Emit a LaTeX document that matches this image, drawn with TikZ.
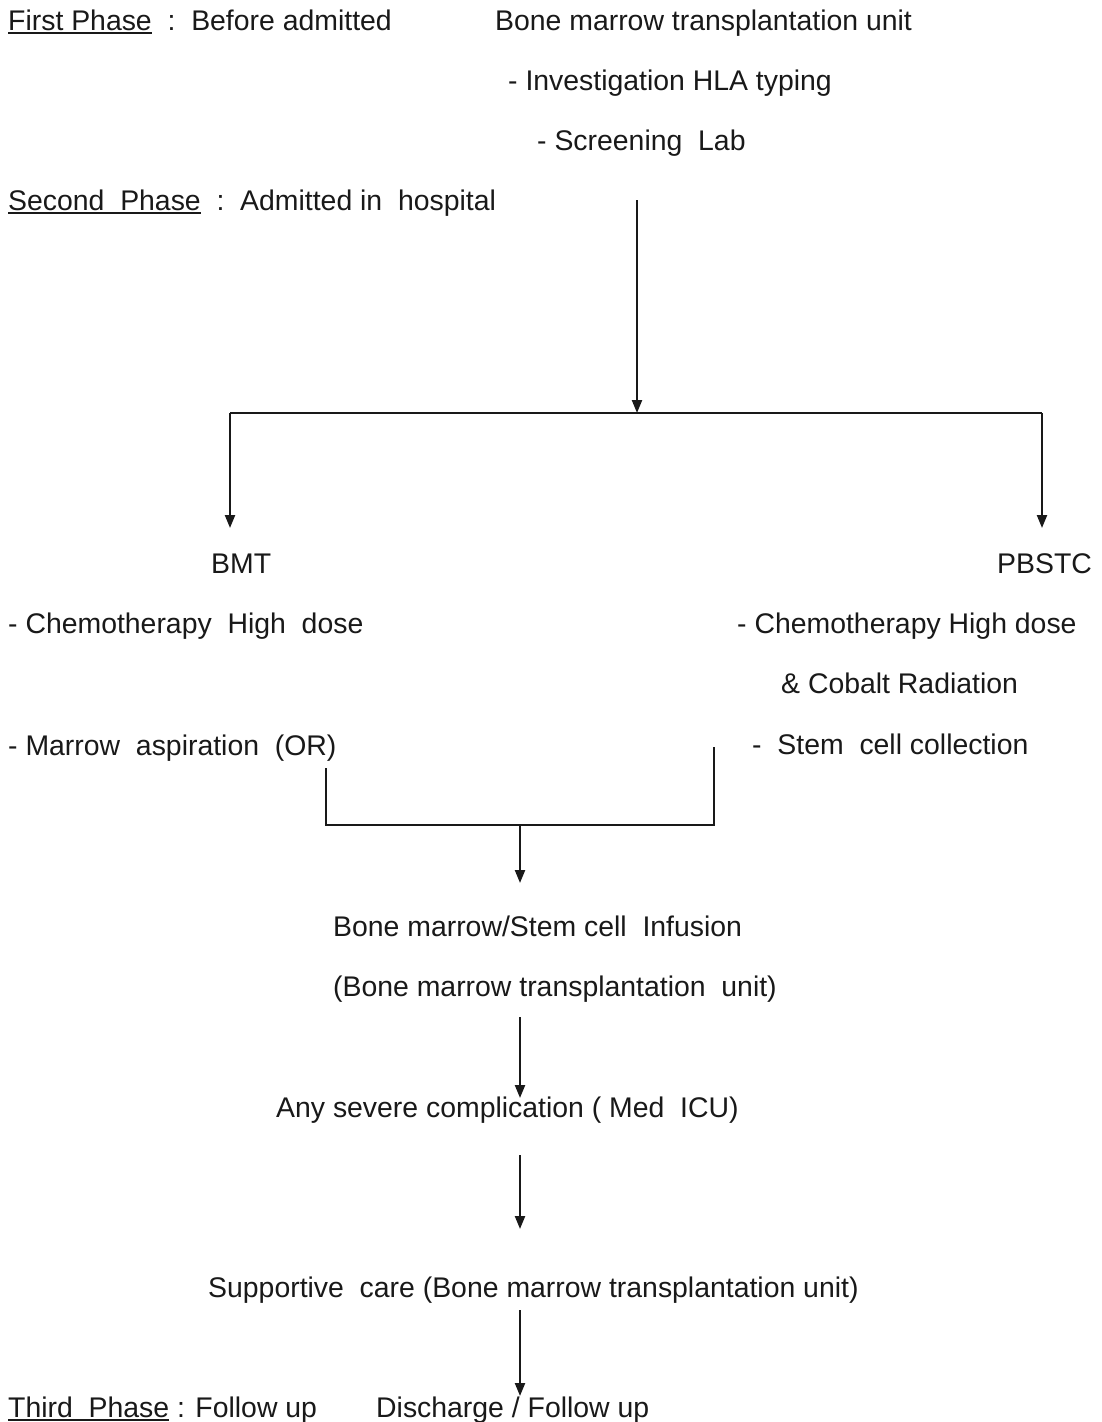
\documentclass[tikz,border=0pt]{standalone}
\usepackage{fontspec}
\setmainfont{Liberation Sans}
\usetikzlibrary{arrows.meta}
\newcommand\myul[1]{\setbox0\hbox{#1}\rlap{\rule[-3.8pt]{\wd0}{2pt}}\box0}
\tikzset{
  txt/.style={anchor=base west, inner sep=0pt, font=\fontsize{28.4}{34}\selectfont, text=black!90},
  ln/.style={line width=2.2pt, draw=black!90},
  arr/.style={ln, -{Triangle[length=13pt,width=10pt]}},
}
\begin{document}
\begin{tikzpicture}[x=1pt,y=-1pt]
\useasboundingbox (0,0) rectangle (1101,1422);
\fill[white] (0,0) rectangle (1101,1422);
% texts
\node[txt] (p1) at (8,30) {\myul{First Phase}\ \ :\ \ Before admitted};
\node[txt] (bmtu) at (495,30) {Bone marrow transplantation unit};
\node[txt] (hla) at (508,90) {- Investigation HLA typing};
\node[txt] (scr) at (537,150) {- Screening\ \ Lab};
\node[txt] (p2) at (8,210) {\myul{Second\ \ Phase}\ \ :\ \ Admitted in\ \ hospital};
\node[txt] (bmt) at (211,573) {BMT};
\node[txt] (pbstc) at (997,573) {PBSTC};
\node[txt] (c1) at (8,633) {- Chemotherapy\ \ High\ \ dose};
\node[txt] (c2) at (737,633) {- Chemotherapy High dose};
\node[txt] (cob) at (781,693) {\& Cobalt Radiation};
\node[txt] (mar) at (8,755) {- Marrow\ \ aspiration\ \ (OR)};
\node[txt] (stem) at (752,754) {-\ \ Stem\ \ cell collection};
\node[txt] (inf) at (333,936) {Bone marrow/Stem cell\ \ Infusion};
\node[txt] (unit) at (333,996) {(Bone marrow transplantation\ \ unit)};
\node[txt] (comp) at (276,1117) {Any severe complication ( Med\ \ ICU)};
\node[txt] (sup) at (208,1297) {Supportive\ \ care (Bone marrow transplantation unit)};
\node[txt] (p3) at (8,1417) {\myul{Third\ \ Phase}\ : Follow up};
\node[txt] (dis) at (376,1417) {Discharge / Follow up};
% connector points
\coordinate (t0) at (637,200);
\coordinate (t1) at (637,413);
\coordinate (hl) at (230,413);
\coordinate (hr) at (1042,413);
\coordinate (bl) at (230,528);
\coordinate (br) at (1042,528);
\coordinate (ml0) at (326,768);
\coordinate (ml1) at (326,825);
\coordinate (mr0) at (714,747);
\coordinate (mr1) at (714,825);
\coordinate (m0) at (520,825);
\coordinate (m1) at (520,883);
\coordinate (a0) at (520,1017);
\coordinate (a1) at (520,1098);
\coordinate (b0) at (520,1155);
\coordinate (b1) at (520,1229);
\coordinate (d0) at (520,1310);
\coordinate (d1) at (520,1396);
% connectors
\draw[arr] (t0) -- (t1);
\draw[ln] (hl) -- (hr);
\draw[arr] (hl) -- (bl);
\draw[arr] (hr) -- (br);
\draw[ln] (ml0) -- (ml1) -- (mr1) -- (mr0);
\draw[arr] (m0) -- (m1);
\draw[arr] (a0) -- (a1);
\draw[arr] (b0) -- (b1);
\draw[arr] (d0) -- (d1);
\end{tikzpicture}
\end{document}
